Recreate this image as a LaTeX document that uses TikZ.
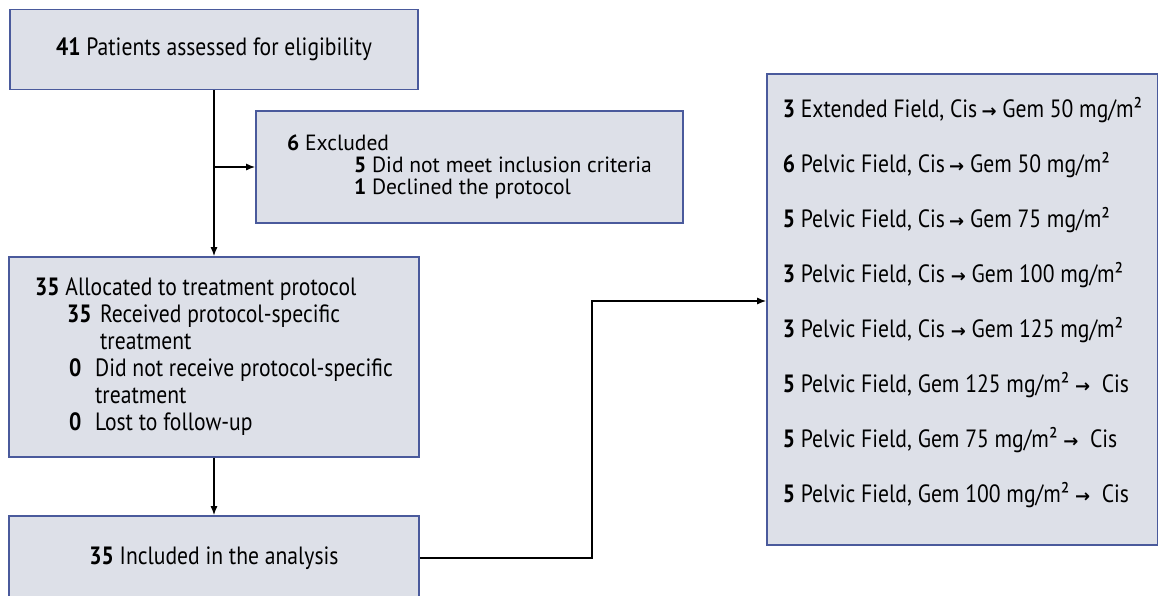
\documentclass[tikz,border=0pt]{standalone}
\usepackage{fontspec}
\setmainfont{PT Sans}[FakeStretch=0.865]
\newfontfamily\ancha{PT Sans}[FakeStretch=0.98]
\newfontfamily\flechita{DejaVu Sans}
\usepackage{xcolor}
\usetikzlibrary{arrows.meta,positioning}
\definecolor{relleno}{HTML}{DDE0E8}
\definecolor{borde}{HTML}{4A5A9C}
\newcommand{\ra}{{\flechita\bfseries\fontsize{18}{18}\selectfont →}}

\begin{document}
\begin{tikzpicture}[x=1pt, y=-1pt,
      caja/.style={rectangle, draw=borde, fill=relleno, line width=1.6pt,
                   align=left, font=\fontsize{25}{27}\selectfont},
      flecha/.style={-{Latex[length=9pt, width=7pt]}, draw=black, line width=1.4pt}]
    \useasboundingbox (0,0) rectangle (1158,595);

    \node[caja, minimum width=408pt, minimum height=80pt] (a) at (214,49.5)
      {\textbf{41} Patients assessed for eligibility};
    \node[caja, minimum width=427pt, minimum height=112pt,
          font=\ancha\fontsize{22}{22}\selectfont] (b) at (469.5,167)
      {\textbf{6} Excluded\\
       \hspace*{67pt}\textbf{5} Did not meet inclusion criteria\\
       \hspace*{67pt}\textbf{1} Declined the protocol};
    \node[caja, minimum width=410pt, minimum height=200pt] (c) at (214,357)
      {\textbf{35} Allocated to treatment protocol\\
       \hspace*{32pt}\makebox[33pt][l]{\textbf{35}}Received protocol-specific\\
       \hspace*{65pt}treatment\\
       \hspace*{34pt}\makebox[26pt][l]{\textbf{0}}Did not receive protocol-specific\\
       \hspace*{60pt}treatment\\
       \hspace*{34pt}\makebox[26pt][l]{\textbf{0}}Lost to follow-up};
    \node[caja, minimum width=410pt, minimum height=84pt] (d) at (214,558)
      {\textbf{35} Included in the analysis};
    \node[caja, minimum width=391pt, minimum height=471pt,
          font=\fontsize{25}{55}\selectfont] (e) at (962.5,309.5)
      {\textbf{3} Extended Field, Cis\,\ra\ Gem 50 mg/m²\\
       \textbf{6} Pelvic Field, Cis\,\ra\ Gem 50 mg/m²\\
       \textbf{5} Pelvic Field, Cis\,\ra\ Gem 75 mg/m²\\
       \textbf{3} Pelvic Field, Cis \ra\ Gem 100 mg/m²\\
       \textbf{3} Pelvic Field, Cis \ra\ Gem 125 mg/m²\\
       \textbf{5} Pelvic Field, Gem 125 mg/m² \ra\ \ Cis\\
       \textbf{5} Pelvic Field, Gem 75 mg/m² \ra\ \ Cis\\
       \textbf{5} Pelvic Field, Gem 100 mg/m² \ra\ \ Cis\rule[-19pt]{0pt}{19pt}};
    \coordinate (k) at (592,301);

    \draw[flecha] (a.south) -- (c.north);
    \draw[flecha] (a.south |- b.west) -- (b.west);
    \draw[flecha] (c.south) -- (d.north);
    \draw[flecha] (d.east) -| (k) -- (k -| e.west);
  \end{tikzpicture}
\end{document}
